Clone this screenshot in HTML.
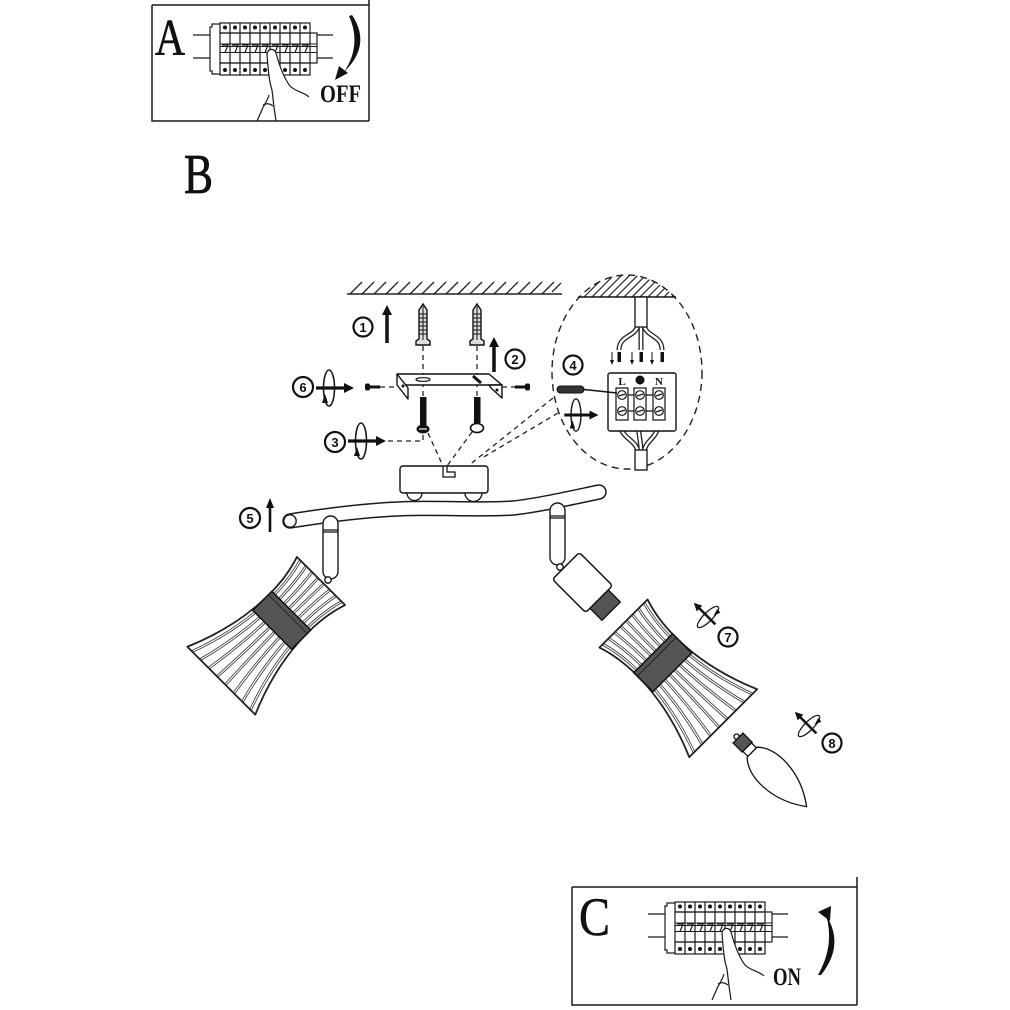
<!DOCTYPE html>
<html><head><meta charset="utf-8"><style>
html,body{margin:0;padding:0;background:#fff;}
svg{display:block;}
.n{font-family:"Liberation Sans",sans-serif;font-weight:bold;font-size:13px;text-anchor:middle;fill:#111;}
.L{font-family:"Liberation Serif",serif;fill:#111;}
</style></head><body>
<svg width="1010" height="1010" viewBox="0 0 1010 1010" xmlns="http://www.w3.org/2000/svg">
<defs>
<clipPath id="ec"><ellipse cx="627" cy="372" rx="75" ry="97"/></clipPath>
<g id="brk" fill="none" stroke="#1a1a1a" stroke-width="1.2">
 <path d="M0,1 H-8 V4 H-10 V48 H-8 V51 H0"/>
 <path d="M-27,12 H-10 M-27,35 H-10 M97,12 H113 M97,35 H113"/>
 <rect x="0" y="0" width="90" height="10"/>
 <rect x="0" y="10" width="97" height="30"/>
 <rect x="0" y="40" width="90" height="12"/>
 <path d="M10,0V52 M20,0V52 M30,0V52 M40,0V52 M50,0V52 M60,0V52 M70,0V52 M80,0V52 M90,10V40"/>
 <path d="M0,21H97 M0,23.5H97 M0,29.5H97" stroke-width="1.1"/>
 <path d="M2,22H8L5,29.5 M12,22H18L15,29.5 M22,22H28L25,29.5 M32,22H38L35,29.5 M42,22H48L45,29.5 M52,22H58L55,29.5 M62,22H68L65,29.5 M72,22H78L75,29.5 M82,22H88L85,29.5"/>
 <g fill="#111" stroke="none">
  <circle cx="5" cy="4.5" r="2"/><circle cx="15" cy="4.5" r="2"/><circle cx="25" cy="4.5" r="2"/><circle cx="35" cy="4.5" r="2"/><circle cx="45" cy="4.5" r="2"/><circle cx="55" cy="4.5" r="2"/><circle cx="65" cy="4.5" r="2"/><circle cx="75" cy="4.5" r="2"/><circle cx="85" cy="4.5" r="2"/>
  <circle cx="5" cy="47" r="2"/><circle cx="15" cy="47" r="2"/><circle cx="25" cy="47" r="2"/><circle cx="35" cy="47" r="2"/><circle cx="45" cy="47" r="2"/><circle cx="65" cy="47" r="2"/><circle cx="75" cy="47" r="2"/><circle cx="85" cy="47" r="2"/>
 </g>
 <path d="M47,31 C48,25 54,25 56,30 C60,45 64,55 70,63 L60,72 L52,70 C49,58 48,45 47,31 Z" fill="#fff" stroke="none"/>
 <path d="M47,31 C48,25 54,25 56,30 C60,45 64,55 70,63 C76,69 84,69 89,74"/>
 <path d="M47,31 C48,45 49,58 52,67 L54,84 L56,98"/>
 <path d="M37,98 L41,89 C43,83 47,79 49,72"/>
 <path d="M43,82 Q48,79 53,83"/>
</g>
<g id="rot">
 <ellipse cx="0" cy="0" rx="5.5" ry="18" fill="none" stroke="#1a1a1a" stroke-width="1.6"/>
 <line x1="-13" y1="0" x2="17" y2="0" stroke="#111" stroke-width="3.2"/>
 <polygon points="15,-5 25,0 15,5" fill="#111"/>
 <polygon points="-7,15 -4,6 -1,15" fill="#111"/>
</g>
<g id="shade">
 <path d="M0,-34 C30,-24 80,-22 141,-48 L141,48 C80,22 30,24 0,34 Z" fill="#fff"/>
 <g fill="none" stroke="#333" stroke-width="2.8">
  <path d="M0,-29.2 C30,-20.6 80,-18.9 141,-41.3"/><path d="M0,-21.1 C30,-14.9 80,-13.6 141,-29.8"/>
  <path d="M0,-12.6 C30,-8.9 80,-8.1 141,-17.8"/><path d="M0,-4.1 C30,-2.9 80,-2.6 141,-5.8"/>
  <path d="M0,29.2 C30,20.6 80,18.9 141,41.3"/><path d="M0,21.1 C30,14.9 80,13.6 141,29.8"/>
  <path d="M0,12.6 C30,8.9 80,8.1 141,17.8"/><path d="M0,4.1 C30,2.9 80,2.6 141,5.8"/>
 </g>
 <g fill="none" stroke="#fff" stroke-width="1.2">
  <path d="M0,-29.2 C30,-20.6 80,-18.9 141,-41.3"/><path d="M0,-21.1 C30,-14.9 80,-13.6 141,-29.8"/>
  <path d="M0,-12.6 C30,-8.9 80,-8.1 141,-17.8"/><path d="M0,-4.1 C30,-2.9 80,-2.6 141,-5.8"/>
  <path d="M0,29.2 C30,20.6 80,18.9 141,41.3"/><path d="M0,21.1 C30,14.9 80,13.6 141,29.8"/>
  <path d="M0,12.6 C30,8.9 80,8.1 141,17.8"/><path d="M0,4.1 C30,2.9 80,2.6 141,5.8"/>
 </g>
 <path d="M0,-34 C30,-24 80,-22 141,-48 L141,48 C80,22 30,24 0,34 Z" fill="none" stroke="#222" stroke-width="1.8" stroke-linejoin="round"/>
 <rect x="42" y="-27.5" width="27" height="55" fill="#555" stroke="#111" stroke-width="1.5"/>
 <line x1="47" y1="-27" x2="47" y2="27" stroke="#222" stroke-width="1"/>
</g>
</defs>

<rect width="1010" height="1010" fill="#fff"/>

<!-- Box A -->
<g fill="none" stroke="#1a1a1a" stroke-width="1.5">
 <path d="M152,5 H369 M152,5 V121 H369 M369,0 V121"/>
</g>
<text class="L" x="155" y="55" font-size="52" textLength="30" lengthAdjust="spacingAndGlyphs" stroke="#111" stroke-width="0.6">A</text>
<use href="#brk" transform="translate(220,23)"/>
<path d="M352,15 Q372,45 344,72 Q362,45 349,16 Z" fill="#111"/>
<polygon points="335,80 339,66 348,73" fill="#111"/>
<text class="L" x="320" y="102" font-size="25" font-weight="bold" textLength="41" lengthAdjust="spacingAndGlyphs">OFF</text>

<!-- B -->
<text class="L" x="184" y="193" font-size="56" textLength="29" lengthAdjust="spacingAndGlyphs" stroke="#111" stroke-width="0.8">B</text>

<!-- Ceiling -->
<g stroke="#222" stroke-width="1.3" fill="none">
 <line x1="347" y1="294" x2="562" y2="294" stroke-width="1.6"/>
 <path d="M350,294l12,-12 M362,294l12,-12 M374,294l12,-12 M386,294l12,-12 M398,294l12,-12 M410,294l12,-12 M422,294l12,-12 M434,294l12,-12 M446,294l12,-12 M458,294l12,-12 M470,294l12,-12 M482,294l12,-12 M494,294l12,-12 M506,294l12,-12 M518,294l12,-12 M530,294l12,-12 M542,294l12,-12 M552,292l9,-9"/>
</g>

<!-- number 1,2 and up arrows -->
<circle cx="363" cy="327" r="9.5" fill="#fff" stroke="#111" stroke-width="2.2"/><text class="n" x="363" y="332">1</text>
<line x1="387" y1="313" x2="387" y2="343" stroke="#111" stroke-width="3.5"/><polygon points="382,315 387,305 392,315" fill="#111"/>
<circle cx="515" cy="359" r="9.5" fill="#fff" stroke="#111" stroke-width="2.2"/><text class="n" x="515" y="364">2</text>
<line x1="494" y1="345" x2="494" y2="372" stroke="#111" stroke-width="3.5"/><polygon points="489,347 494,337 499,347" fill="#111"/>

<!-- dashed lines -->
<g fill="none" stroke="#222" stroke-width="1.3" stroke-dasharray="5,4">
 <path d="M423,346 V398 M477,346 V398"/>
 <path d="M380,387 H397 M502,387 H515"/>
 <path d="M388,441 H423 V433"/>
 <path d="M428,433 L443,466 M472,432 L447,466"/>
 <path d="M553,398 L468,466 M558,413 L482,458"/>
</g>

<!-- wall plugs -->
<g fill="#ddd" stroke="#111" stroke-width="1.4">
 <path d="M419,310 L423,304 L427,310 V339 L430,341 V345 H416 V341 L419,339 Z"/>
 <path d="M473,310 L477,304 L481,310 V339 L484,341 V345 H470 V341 L473,339 Z"/>
</g>
<g stroke="#111" stroke-width="1">
 <path d="M419,314H427 M419,318H427 M419,322H427 M419,326H427 M419,330H427 M419,334H427 M423,306V340"/>
 <path d="M473,314H481 M473,318H481 M473,322H481 M473,326H481 M473,330H481 M473,334H481 M477,306V340"/>
</g>

<!-- bracket -->
<g fill="#fff" stroke="#111" stroke-width="1.4" stroke-linejoin="round">
 <polygon points="397,374 489,374 502,385 402,385"/>
 <polygon points="397,374 397,385 408,399 408,388"/>
 <polygon points="489,385 502,385 502,398 491,388"/>
</g>
<ellipse cx="423" cy="379.5" rx="7" ry="1.8" fill="none" stroke="#111" stroke-width="1.2"/>
<line x1="473" y1="376" x2="481" y2="383" stroke="#111" stroke-width="3"/>
<circle cx="403" cy="386" r="1.5" fill="#111"/><circle cx="497" cy="390" r="1.5" fill="#111"/>
<!-- side screws -->
<rect x="365" y="383.5" width="5" height="7" rx="2" fill="#111"/><rect x="369" y="385.5" width="11" height="3" fill="#111"/>
<rect x="515" y="385.5" width="11" height="3" fill="#111"/><rect x="525" y="383.5" width="5" height="7" rx="2" fill="#111"/>
<!-- bottom screws -->
<rect x="420" y="397" width="6.5" height="28" fill="#111"/>
<ellipse cx="423" cy="429" rx="6.5" ry="4.5" fill="#111"/><line x1="419" y1="429" x2="427" y2="429" stroke="#fff" stroke-width="1.2"/>
<rect x="474" y="397" width="6.5" height="26" fill="#111"/>
<ellipse cx="477" cy="428" rx="6.5" ry="4.5" fill="#fff" stroke="#111" stroke-width="1.6"/>

<!-- 6 and 3 -->
<circle cx="303" cy="387" r="10" fill="#fff" stroke="#111" stroke-width="2.2"/><text class="n" x="303" y="392">6</text>
<use href="#rot" transform="translate(329,388)"/>
<circle cx="335" cy="442" r="10" fill="#fff" stroke="#111" stroke-width="2.2"/><text class="n" x="335" y="447">3</text>
<use href="#rot" transform="translate(361,441)"/>

<!-- detail ellipse -->
<g clip-path="url(#ec)" stroke="#222" stroke-width="1.2">
 <path d="M560,297l26,-26 M568,297l26,-26 M576,297l26,-26 M584,297l26,-26 M592,297l26,-26 M600,297l26,-26 M608,297l26,-26 M616,297l26,-26 M624,297l26,-26 M632,297l26,-26 M640,297l26,-26 M648,297l26,-26 M656,297l26,-26 M664,297l26,-26 M672,297l26,-26"/>
</g>
<line x1="578" y1="297" x2="676" y2="297" stroke="#111" stroke-width="1.6"/>
<ellipse cx="627" cy="372" rx="75" ry="97" fill="none" stroke="#222" stroke-width="1.4" stroke-dasharray="7,5"/>
<!-- cables -->
<g fill="none" stroke-linecap="butt">
 <g stroke="#222" stroke-width="5">
  <path d="M638,325 C636,337 619,335 619,350"/><path d="M641,325 V350"/><path d="M644,325 C646,337 662,335 662,350"/>
  <path d="M619,418 C619,440 636,438 638,452"/><path d="M638,418 C638,435 641,440 641,452"/><path d="M659,418 C659,440 646,438 644,452"/>
 </g>
 <g stroke="#fff" stroke-width="2.4">
  <path d="M638,325 C636,337 619,335 619,350"/><path d="M641,325 V350"/><path d="M644,325 C646,337 662,335 662,350"/>
  <path d="M619,418 C619,440 636,438 638,452"/><path d="M638,418 C638,435 641,440 641,452"/><path d="M659,418 C659,440 646,438 644,452"/>
 </g>
</g>
<rect x="635" y="297" width="12" height="30" fill="#fff" stroke="#111" stroke-width="1.3"/>
<rect x="635" y="450" width="12" height="20" fill="#fff" stroke="#111" stroke-width="1.3"/>
<g fill="#111">
 <rect x="617.5" y="352" width="3.5" height="10"/><rect x="639.5" y="352" width="3.5" height="10"/><rect x="660.5" y="352" width="3.5" height="10"/>
 <path d="M612,352V362 M632,352V362 M652,352V362" stroke="#111" stroke-width="1"/>
 <polygon points="610,360 612,365 614,360"/><polygon points="630,360 632,365 634,360"/><polygon points="650,360 652,365 654,360"/>
</g>
<!-- terminal block -->
<rect x="608" y="373" width="68" height="58" rx="2" fill="#fff" stroke="#111" stroke-width="1.4"/>
<text class="L" x="622" y="385" font-size="11" font-weight="bold" text-anchor="middle">L</text>
<circle cx="640" cy="380" r="4.5" fill="#111"/>
<text class="L" x="659" y="385" font-size="11" font-weight="bold" text-anchor="middle">N</text>
<g fill="#fff" stroke="#111" stroke-width="1.2">
 <rect x="616" y="388" width="12" height="32"/><rect x="634" y="388" width="12" height="32"/><rect x="653" y="388" width="12" height="32"/>
 <path d="M628,395H634 M646,395H653 M628,411H634 M646,411H653" fill="none"/>
 <circle cx="622" cy="395" r="4.3"/><circle cx="640" cy="395" r="4.3"/><circle cx="659" cy="395" r="4.3"/>
 <circle cx="622" cy="411" r="4.3"/><circle cx="640" cy="411" r="4.3"/><circle cx="659" cy="411" r="4.3"/>
 <path d="M619,396 L625,394 M637,396 L643,394 M656,396 L662,394 M619,412 L625,410 M637,412 L643,410 M656,412 L662,410" fill="none"/>
</g>
<!-- screwdriver -->
<rect x="557" y="386" width="27" height="7" rx="3.5" fill="#333" stroke="#111" stroke-width="1"/>
<line x1="584" y1="389.5" x2="617" y2="393" stroke="#111" stroke-width="1.4"/>
<circle cx="573" cy="365" r="9.5" fill="#fff" stroke="#111" stroke-width="2.2"/><text class="n" x="573" y="370">4</text>
<use href="#rot" transform="translate(576,415) scale(0.9)"/>

<!-- canopy -->
<rect x="400" y="466" width="88" height="27" rx="3" fill="#fff" stroke="#111" stroke-width="1.4"/>
<path d="M443,466 V477 H455 V472 H447 V466" fill="none" stroke="#111" stroke-width="1.3"/>

<!-- bar -->
<path d="M290,521 C340,513 380,509 413,508.5 S490,510 513,508 S575,497 599,492" fill="none" stroke="#1a1a1a" stroke-width="15.5" stroke-linecap="round"/>
<path d="M290,521 C340,513 380,509 413,508.5 S490,510 513,508 S575,497 599,492" fill="none" stroke="#fff" stroke-width="12.5" stroke-linecap="round"/>
<circle cx="290" cy="521" r="6.2" fill="#fff" stroke="#1a1a1a" stroke-width="1.4"/>
<!-- feet -->
<path d="M407,493 A7.5,7.5 0 0 0 422,493 Z M465,493 A8.5,8.5 0 0 0 482,493 Z" fill="#fff" stroke="#111" stroke-width="1.3"/>

<!-- 5 -->
<circle cx="250" cy="518" r="10" fill="#fff" stroke="#111" stroke-width="2.2"/><text class="n" x="250" y="523">5</text>
<line x1="270" y1="506" x2="270" y2="532" stroke="#111" stroke-width="2.6"/><polygon points="266,508 270,498 274,508" fill="#111"/>

<!-- left arm + shade -->
<rect x="323" y="516" width="15" height="63" rx="7.5" fill="#fff" stroke="#1a1a1a" stroke-width="1.4"/>
<path d="M323,530H338 M323,532H338" stroke="#111" stroke-width="1.3"/>
<use href="#shade" transform="translate(321,581) rotate(135)"/>
<circle cx="328" cy="580" r="3.2" fill="#fff" stroke="#111" stroke-width="1.3"/>

<!-- right arm + socket -->
<rect x="550" y="503" width="15" height="62" rx="7.5" fill="#fff" stroke="#1a1a1a" stroke-width="1.4"/>
<path d="M550,516H565 M550,518H565" stroke="#111" stroke-width="1.3"/>
<g transform="translate(582.5,582.5) rotate(45)">
 <rect x="-23.5" y="-19" width="47" height="38" rx="3" fill="#fff" stroke="#1a1a1a" stroke-width="1.5"/>
 <rect x="23.5" y="-13" width="17" height="26" fill="#555" stroke="#111" stroke-width="1.3"/>
</g>
<circle cx="560" cy="567" r="3.2" fill="#fff" stroke="#111" stroke-width="1.3"/>
<use href="#shade" transform="translate(623.5,623.5) rotate(45)"/>

<!-- 7 -->
<use href="#rot" transform="translate(708,617) rotate(225) scale(0.8)"/>
<circle cx="728" cy="637" r="9.5" fill="#fff" stroke="#111" stroke-width="2.2"/><text class="n" x="728" y="642">7</text>

<!-- bulb -->
<g transform="translate(738,738) rotate(45)" stroke="#111" stroke-width="1.3">
 <circle cx="-2" cy="0" r="2.6" fill="#fff"/>
 <rect x="0" y="-7" width="13" height="14" fill="#555"/>
 <rect x="13" y="-6" width="7" height="12" fill="#fff"/>
 <path d="M20,-7 C35,-22 70,-20 97,0 C70,20 35,22 20,7 Z" fill="#fff"/>
</g>

<!-- 8 -->
<use href="#rot" transform="translate(809,726) rotate(225) scale(0.8)"/>
<circle cx="832" cy="743" r="9.5" fill="#fff" stroke="#111" stroke-width="2.2"/><text class="n" x="832" y="748">8</text>

<!-- Box C -->
<g fill="none" stroke="#1a1a1a" stroke-width="1.5">
 <path d="M572,887 H857 M572,887 V1005 H857 M857,877 V1005"/>
</g>
<text class="L" x="579" y="935" font-size="54" textLength="31" lengthAdjust="spacingAndGlyphs" stroke="#111" stroke-width="0.6">C</text>
<use href="#brk" transform="translate(675,902)"/>
<path d="M821,975 Q845,945 826,915 Q835,945 818,975 Z" fill="#111"/>
<polygon points="818,912 831,906 830,921" fill="#111"/>
<text class="L" x="773" y="985" font-size="25" font-weight="bold" textLength="28" lengthAdjust="spacingAndGlyphs">ON</text>
</svg>
</body></html>
